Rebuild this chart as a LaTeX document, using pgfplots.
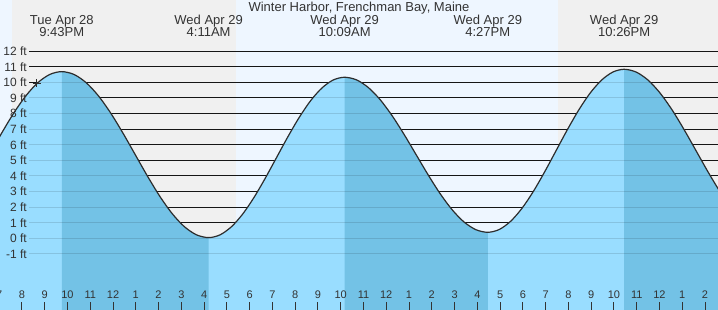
\documentclass[border=0pt]{standalone}
\usepackage{pgfplots}
\pgfplotsset{compat=1.18}
\usepackage{pgfplotstable}
\usepgfplotslibrary{fillbetween}
\usepackage{fontspec}
\setmainfont{Liberation Sans}
\definecolor{nightbg}{RGB}{240,240,240}
\definecolor{daybg}{RGB}{238,246,255}
\definecolor{waterlight}{RGB}{153,221,255}
\definecolor{waterdark}{RGB}{115,194,230}
\definecolor{txt}{RGB}{51,51,51}
\definecolor{curvec}{RGB}{45,45,45}

\pgfplotstableread{
t h
-8.5 0.3
-7.979 0.477
-7.458 0.996
-6.938 1.822
-6.417 2.897
-5.896 4.151
-5.375 5.495
-4.854 6.839
-4.333 8.093
-3.812 9.168
-3.292 9.994
-2.771 10.513
-2.25 10.69
-1.7125 10.509
-1.175 9.977
-0.6375 9.132
-0.1 8.03
0.4375 6.747
0.975 5.37
1.5125 3.993
2.05 2.71
2.5875 1.608
3.125 0.763
3.6625 0.231
4.2 0.05
4.6975 0.225
5.195 0.739
5.6925 1.555
6.19 2.62
6.6875 3.86
7.185 5.19
7.6825 6.52
8.18 7.76
8.6775 8.825
9.175 9.641
9.6725 10.155
10.17 10.33
10.694 10.161
11.218 9.664
11.743 8.874
12.267 7.845
12.791 6.646
13.315 5.36
13.839 4.074
14.363 2.875
14.888 1.846
15.412 1.056
15.936 0.559
16.46 0.39
16.959 0.568
17.458 1.09
17.957 1.92
18.457 3.0025
18.956 4.263
19.455 5.615
19.954 6.967
20.453 8.2275
20.952 9.31
21.452 10.14
21.951 10.662
22.45 10.84
22.979 10.66
23.508 10.134
24.037 9.296
24.567 8.205
25.096 6.934
25.625 5.57
26.154 4.206
26.683 2.935
27.212 1.844
27.742 1.006
28.271 0.48
28.8 0.3
}\tide

\tikzset{tidelbl/.style={anchor=base, text=txt, font=\fontsize{13}{13}\selectfont, inner sep=0pt}}
\tikzset{fill between/on layer=main}

\begin{document}
\begin{tikzpicture}
\begin{axis}[
  scale only axis,
  width=718pt, height=310pt,
  xmin=-4.963, xmax=26.57,
  ymin=-4.59, ymax=15.282,
  axis on top,
  axis line style={draw=none},
  xtick pos=bottom, ytick pos=left,
  xtick align=inside,
  major tick length=8pt,
  ytick style={draw=none},
  xtick style={draw=txt, line width=1pt},
  ytick={-1,0,1,2,3,4,5,6,7,8,9,10,11,12},
  yticklabels={-1 ft,0 ft,1 ft,2 ft,3 ft,4 ft,5 ft,6 ft,7 ft,8 ft,9 ft,10 ft,11 ft,12 ft},
  yticklabel style={anchor=east, xshift=27pt, inner sep=0pt, font=\fontsize{12}{12}\selectfont, text=txt},
  xtick={-5,-4,-3,-2,-1,1,2,3,4,5,6,7,8,9,10,11,12,13,14,15,16,17,18,19,20,21,22,23,25,26},
  xticklabels={7,8,9,10,11,1,2,3,4,5,6,7,8,9,10,11,12,1,2,3,4,5,6,7,8,9,10,11,1,2},
  xticklabel style={anchor=base, yshift=11.5pt, inner sep=0pt, font=\fontsize{11}{11}\selectfont, text=txt},
  extra x ticks={0,24},
  extra x tick labels={12,12},
  extra x tick style={major tick style={line width=3pt, draw=txt}},
  /pgf/number format/assume math mode=true,
]
\coordinate (SW) at (rel axis cs:0,0);
\coordinate (NE) at (rel axis cs:1,1);
% day / night background
\fill[daybg] (axis cs:-4.963,-4.59) rectangle (axis cs:-4.43,15.282);
\fill[nightbg] (axis cs:-4.43,-4.59) rectangle (axis cs:5.40,15.282);
\fill[daybg] (axis cs:5.40,-4.59) rectangle (axis cs:19.54,15.282);
\fill[nightbg] (axis cs:19.54,-4.59) rectangle (axis cs:26.57,15.282);
% grid lines
\pgfplotsinvokeforeach{-1,0,1,2,3,4,5,6,7,8,9,10,11,12}{
  \draw[black!90, line width=1pt] (axis cs:-3.689,#1) -- (axis cs:26.57,#1);
}
% water
\addplot[draw=none, name path=curve, smooth] table[x=t,y=h] {\tide};
\addplot[draw=none, name path=bottom] coordinates {(-8.5,-6) (28.8,-6)};
\addplot[fill=waterlight, draw=none] fill between[of=curve and bottom];
\addplot[fill=waterdark, draw=none] fill between[of=curve and bottom, soft clip={domain=-2.25:4.2}];
\addplot[fill=waterdark, draw=none] fill between[of=curve and bottom, soft clip={domain=10.17:16.46}];
\addplot[fill=waterdark, draw=none] fill between[of=curve and bottom, soft clip={domain=22.45:28.8}];
% faint lines over water
\pgfplotsinvokeforeach{-1,0,1,2,3,4,5,6,7,8,9,10,11,12}{
  \draw[black, opacity=0.12, line width=1pt] (axis cs:-3.689,#1) -- (axis cs:26.57,#1);
}
\addplot[curvec, line width=1.2pt, smooth] table[x=t,y=h] {\tide};
\addplot[only marks, mark=+, mark size=4pt, mark options={line width=1pt, draw=curvec}] coordinates {(-3.34,9.93)};
% labels
\node[tidelbl] at (rel axis cs:0.5,0.9631) {Winter Harbor, Frenchman Bay, Maine};
\node[tidelbl] at (axis cs:-2.25,13.74) {Tue Apr 28};
\node[tidelbl] at (axis cs:-2.25,12.97) {9:43PM};
\node[tidelbl] at (axis cs:4.2,13.74) {Wed Apr 29};
\node[tidelbl] at (axis cs:4.2,12.97) {4:11AM};
\node[tidelbl] at (axis cs:10.17,13.74) {Wed Apr 29};
\node[tidelbl] at (axis cs:10.17,12.97) {10:09AM};
\node[tidelbl] at (axis cs:16.46,13.74) {Wed Apr 29};
\node[tidelbl] at (axis cs:16.46,12.97) {4:27PM};
\node[tidelbl] at (axis cs:22.45,13.74) {Wed Apr 29};
\node[tidelbl] at (axis cs:22.45,12.97) {10:26PM};
\node[anchor=base, inner sep=0pt, text=txt, font=\fontsize{11}{11}\selectfont] at ([yshift=11.5pt]axis cs:-5,-4.59) {7};
\end{axis}
\pgfresetboundingbox
\useasboundingbox (SW) rectangle (NE);
\end{tikzpicture}
\end{document}
